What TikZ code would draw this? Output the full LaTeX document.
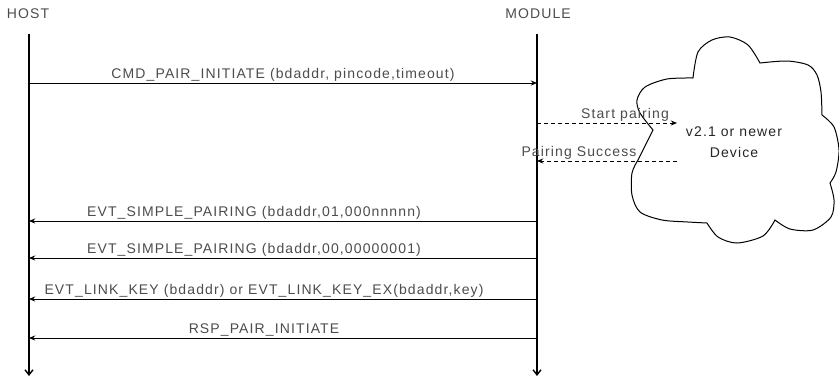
\documentclass[tikz,border=0pt]{standalone}
\usepackage{fontspec}
\setmainfont{Liberation Sans}[LetterSpace=8]
\usetikzlibrary{arrows.meta,positioning}

\begin{document}
\begin{tikzpicture}[x=1pt, y=1pt, >={Stealth[length=2.2mm, width=1.8mm]},
  every node/.style={font=\fontsize{14}{16}\selectfont, text=black!70, inner sep=1.2pt},
  msg/.style={->, line width=1pt},
  dmsg/.style={->, line width=0.9pt, dash pattern=on 4pt off 3pt},
  life/.style={-{Straight Barb[length=1.8mm, width=2.8mm, line width=1.4pt]}, line width=1.3pt}]
  \useasboundingbox (0,0) rectangle (839,-378);
  \node (host) at (28,-14) {HOST};
  \node (module) at (538,-14) {MODULE};
  % lifelines
  \coordinate (hostTop) at (29,-34);
  \coordinate (hostEnd) at (29,-376);
  \coordinate (modTop) at (537,-34);
  \coordinate (modEnd) at (537,-376);
  \draw[life] (hostTop) -- (hostEnd);
  \draw[life] (modTop) -- (modEnd);
  \foreach \y [count=\i] in {83,221,258,299,338} {
    \coordinate (h\i) at (29,-\y);
    \coordinate (m\i) at (537,-\y);
  }
  % messages
  \draw[msg] (h1) -- node[above] (cmd) {CMD\_PAIR\_INITIATE (bdaddr, pincode,timeout)} (m1);
  \draw[msg] (m2) -- node[above, xshift=-29] (evt1) {EVT\_SIMPLE\_PAIRING (bdaddr,01,000nnnnn)} (h2);
  \draw[msg] (m3) -- node[above, xshift=-29] (evt2) {EVT\_SIMPLE\_PAIRING (bdaddr,00,00000001)} (h3);
  \draw[msg] (m4) -- node[above, xshift=-19] (evt3) {EVT\_LINK\_KEY (bdaddr) or EVT\_LINK\_KEY\_EX(bdaddr,key)} (h4);
  \draw[msg] (m5) -- node[above, xshift=-19] (rsp) {RSP\_PAIR\_INITIATE} (h5);
  % remote device
  \draw[line width=1pt]
    plot[smooth] coordinates {(693,-78) (698,-52) (712,-40) (730,-37) (748,-45) (760,-63)}
    -- plot[smooth] coordinates {(760,-63) (787,-61) (808,-65) (817,-75) (821,-92) (822,-115)}
    -- plot[smooth] coordinates {(822,-115) (834,-127) (839,-150) (836,-172) (830,-183)}
    -- plot[smooth] coordinates {(830,-183) (834,-200) (831,-217) (813,-230) (790,-229) (775,-220)}
    -- plot[smooth] coordinates {(775,-220) (763,-236) (737,-243) (718,-237) (707,-223)}
    -- plot[smooth] coordinates {(707,-223) (688,-222) (662,-220) (640,-212) (632,-195) (632,-173) (638,-160)}
    -- (653,-130)
    -- plot[smooth] coordinates {(653,-130) (640,-113) (637,-100) (645,-87) (667,-79) (693,-78)};
  \node[align=center, text=black!85, font=\fontsize{14}{21}\selectfont] (dev) at (734,-142) {v2.1 or newer\\Device};
  \coordinate (m6) at (537,-123);
  \coordinate (d1) at (677,-123);
  \coordinate (d2) at (677,-161);
  \coordinate (m7) at (537,-161);
  \draw[dmsg] (m6) -- node[above, xshift=18] (start) {Start pairing} (d1);
  \draw[dmsg] (d2) -- node[above, xshift=-28] (done) {Pairing Success} (m7);
\end{tikzpicture}
\end{document}
